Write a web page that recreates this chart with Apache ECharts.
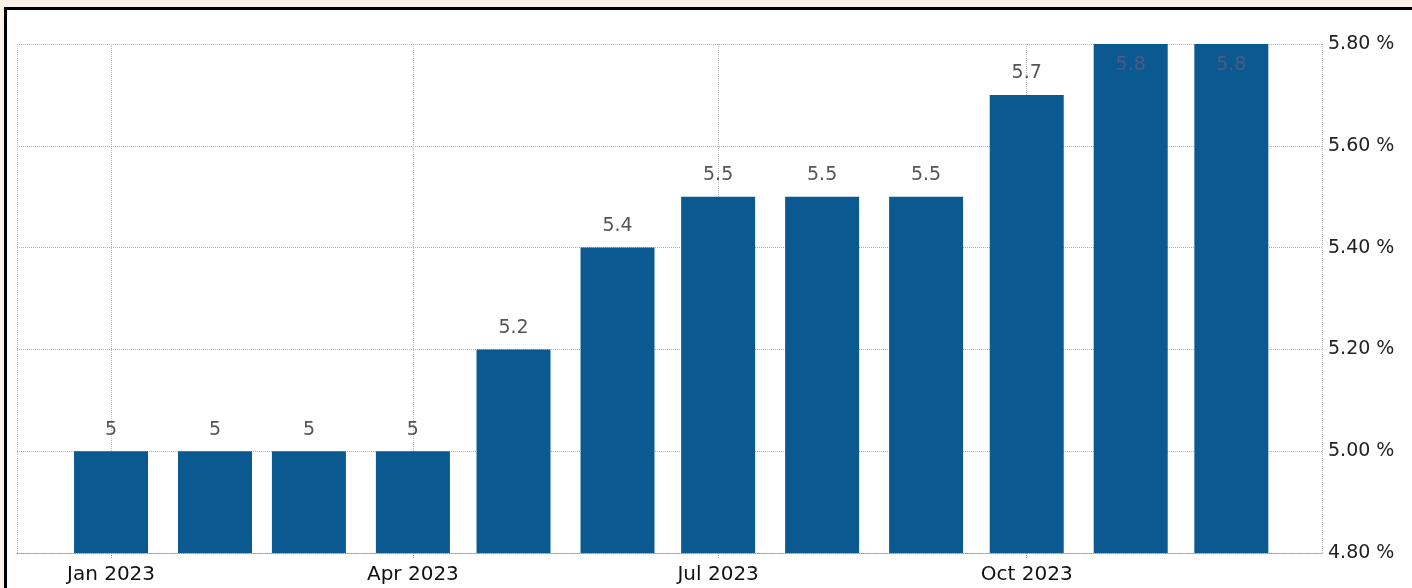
<!DOCTYPE html>
<html>
<head>
<meta charset="utf-8">
<script src="https://cdn.jsdelivr.net/npm/echarts@6/dist/echarts.min.js"></script>
<style>
  html, body { margin: 0; padding: 0; width: 1412px; height: 588px; overflow: hidden; background: #fcf3e8; }
  #frame { position: absolute; left: 4px; top: 7px; right: 0; bottom: 0; background: #ffffff; border-top: 3px solid #000; border-left: 3px solid #000; }
  #chart { position: absolute; left: 0; top: 0; width: 1412px; height: 588px; }
</style>
</head>
<body>
<div id="frame"></div>
<div id="chart"></div>
<script>
// Data
const months = ['2023-01-01','2023-02-01','2023-03-01','2023-04-01','2023-05-01','2023-06-01',
                '2023-07-01','2023-08-01','2023-09-01','2023-10-01','2023-11-01','2023-12-01'];
const rates = [5, 5, 5, 5, 5.2, 5.4, 5.5, 5.5, 5.5, 5.7, 5.8, 5.8];
const yTicks = [4.8, 5.0, 5.2, 5.4, 5.6, 5.8];
const monthNames = ['Jan','Feb','Mar','Apr','May','Jun','Jul','Aug','Sep','Oct','Nov','Dec'];

const yMin = yTicks[0], yMax = yTicks[yTicks.length - 1];
const seriesData = months.map((m, i) => {
  const v = rates[i];
  if (v >= yMax) {
    return { value: [m, v], label: { position: 'insideTop', distance: 12, color: '#4e5a80' } };
  }
  return { value: [m, v] };
});

const chart = echarts.init(document.getElementById('chart'), null, { renderer: 'canvas' });
chart.setOption({
  animation: false,
  backgroundColor: 'transparent',
  grid: { left: 17, right: 90, top: 44, bottom: 35, containLabel: false },
  xAxis: {
    type: 'time',
    // ECharts widens a bar time-axis by half a bar on each side; these bounds compensate for that
    min: '2022-12-15',
    max: '2023-12-17',
    splitNumber: 4,
    axisLine: { show: true, lineStyle: { color: '#9a9a9a', type: 'dotted', width: 1 } },
    axisTick: { show: true, length: 5, lineStyle: { color: '#9a9a9a', type: 'dotted' } },
    minorTick: { show: false },
    splitLine: { show: true, lineStyle: { color: '#bcbcbc', type: 'dotted', width: 1 } },
    axisLabel: {
      show: true,
      margin: 12,
      fontSize: 20,
      fontFamily: 'DejaVu Sans',
      color: '#111',
      formatter: function (val) {
        const d = new Date(val);
        const mth = d.getMonth();
        if (mth % 3 !== 0 || d.getDate() !== 1) return '';
        return monthNames[mth] + ' ' + d.getFullYear();
      }
    }
  },
  yAxis: {
    type: 'value',
    position: 'right',
    min: yMin,
    max: yMax,
    interval: 0.2,
    axisLine: { show: false },
    axisTick: { show: false },
    splitLine: { show: true, lineStyle: { color: '#b0b0b0', type: 'dotted', width: 1 } },
    axisLabel: {
      show: true,
      margin: 6,
      fontSize: 19,
      fontFamily: 'DejaVu Sans',
      color: '#222',
      verticalAlign: 'middle',
      padding: [7, 0, 0, 0],
      formatter: v => v.toFixed(2) + ' %'
    }
  },
  series: [{
    type: 'bar',
    data: seriesData,
    barWidth: 74,
    itemStyle: { color: '#0a5a91' },
    label: {
      show: true,
      position: 'top',
      distance: 12,
      fontSize: 19,
      fontFamily: 'DejaVu Sans',
      color: '#555',
      formatter: p => String(p.value[1])
    }
  }]
});
</script>
</body>
</html>
